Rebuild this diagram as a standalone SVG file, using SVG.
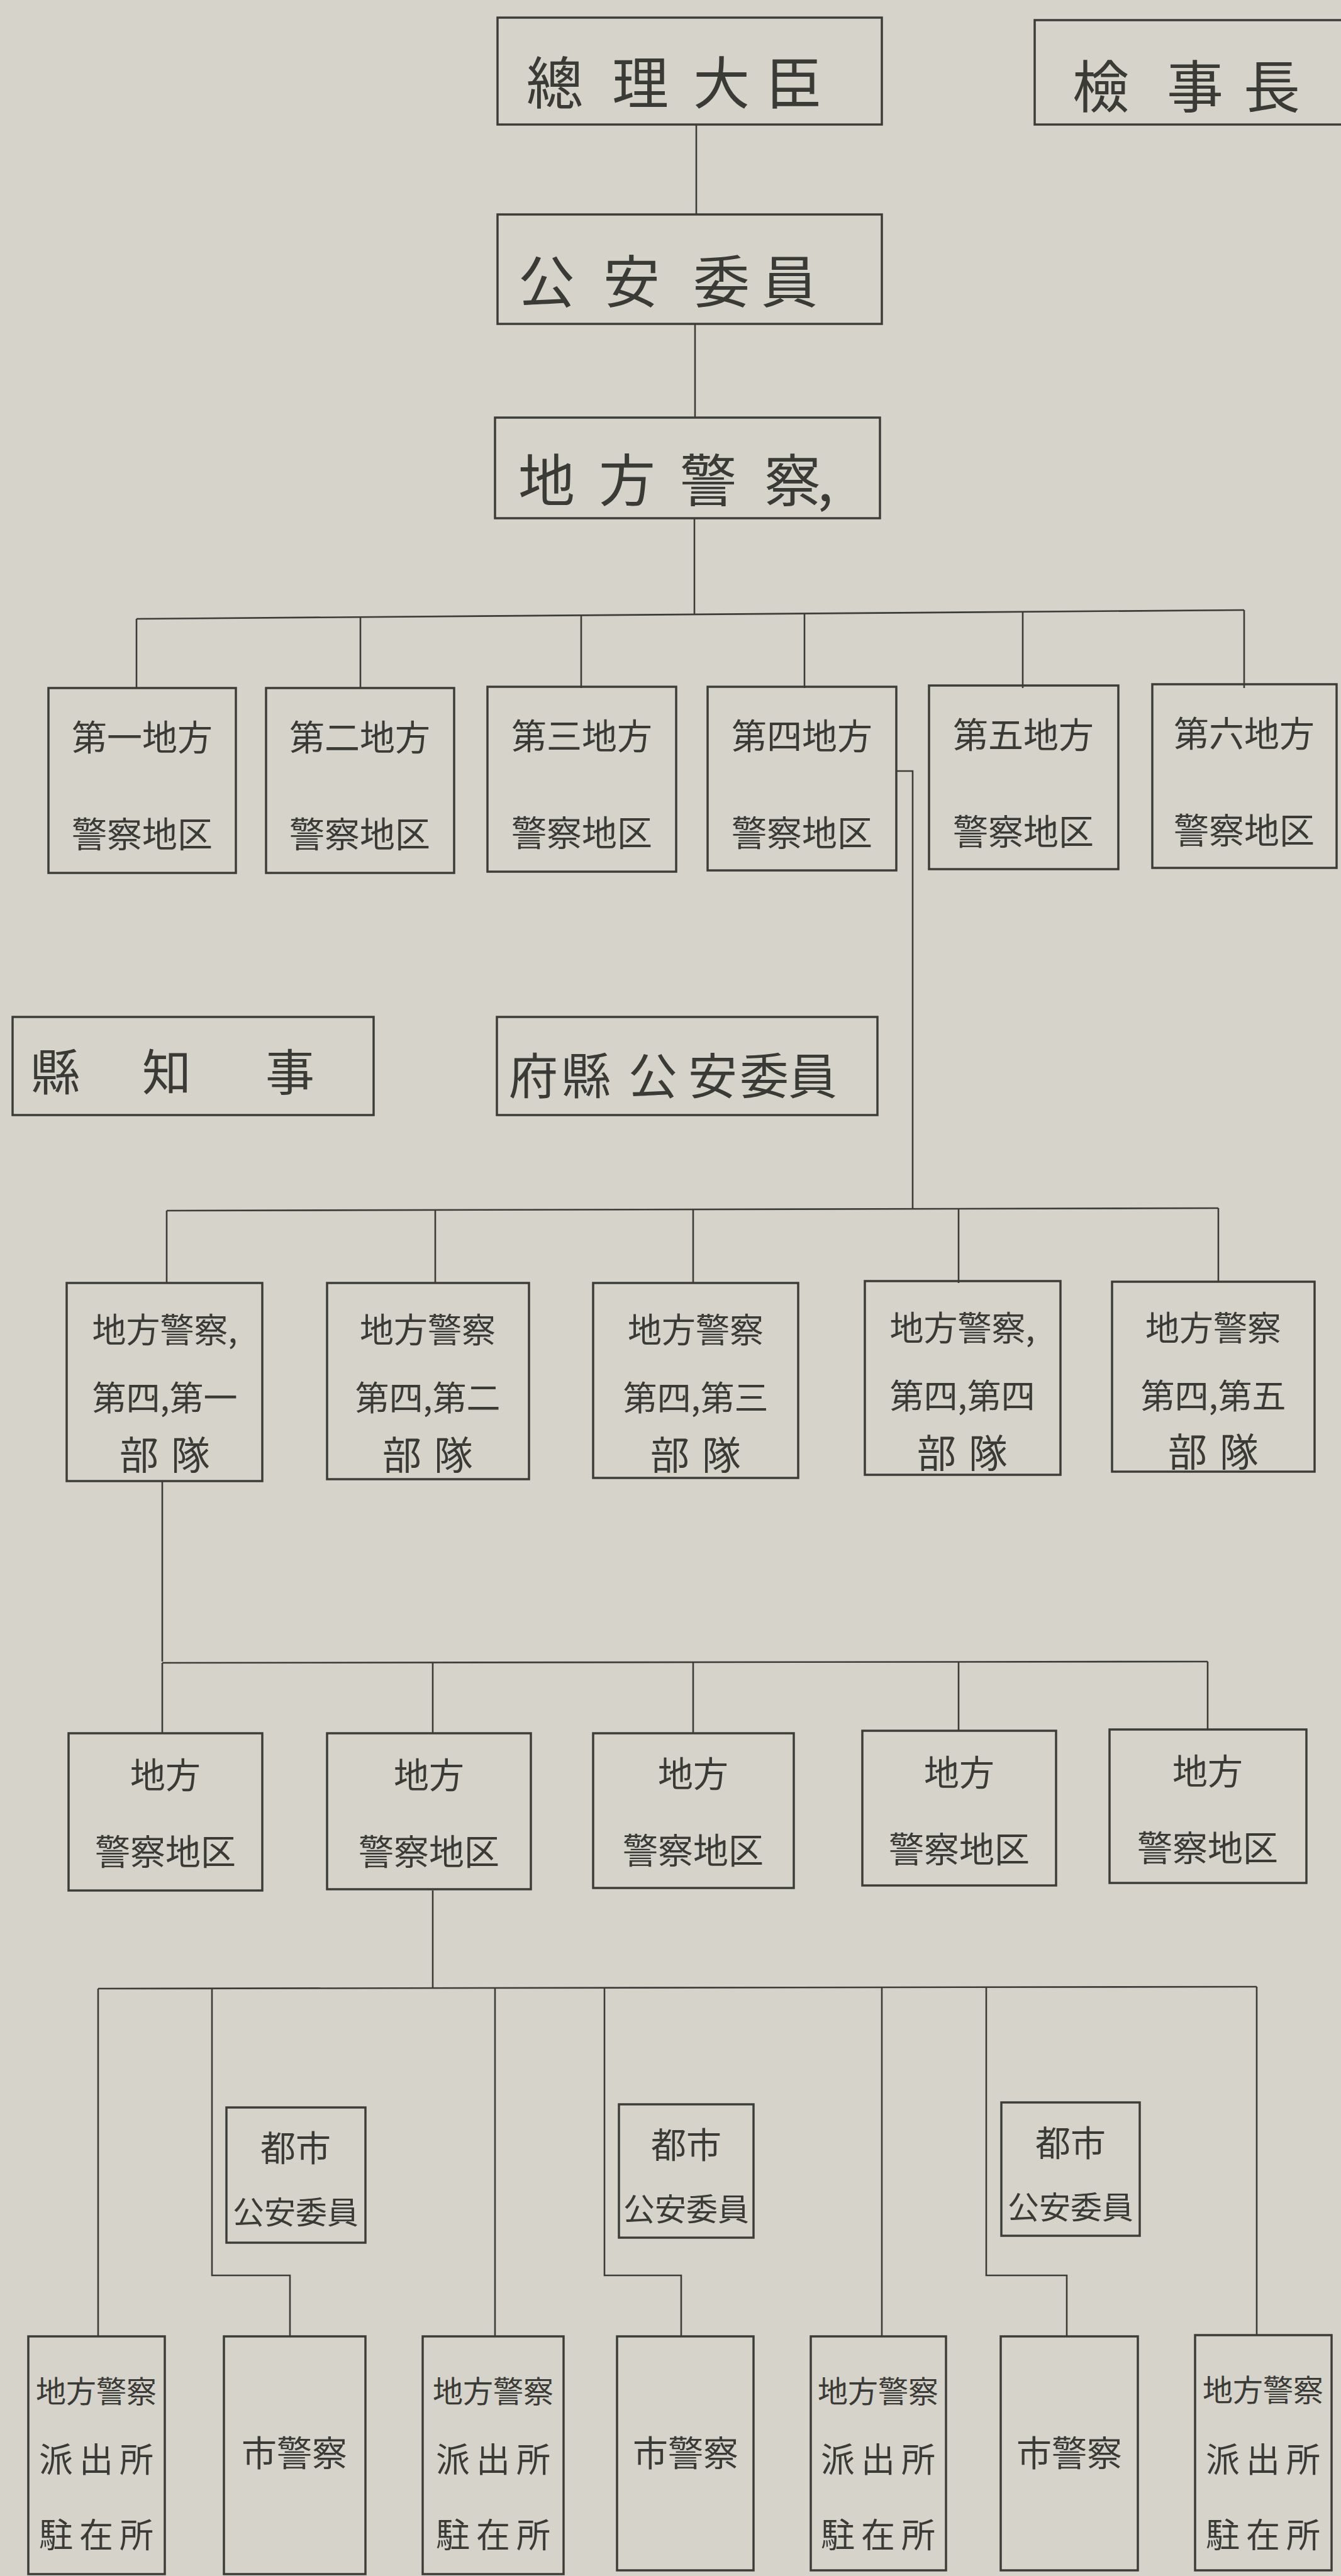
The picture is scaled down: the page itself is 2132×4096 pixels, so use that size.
<svg xmlns="http://www.w3.org/2000/svg" width="2132" height="4096" viewBox="0 0 2132 4096">
<style>
.bg{fill:#d6d4ca}
.box{fill:none;stroke:#3c3c38;stroke-width:3.5}
.ln{fill:none;stroke:#3c3c38;stroke-width:2.6}
text{font-family:"Noto Sans CJK JP","Noto Sans CJK TC",sans-serif;fill:#3a3a36;text-anchor:middle;dominant-baseline:central;font-weight:400}
.f1{font-size:90px}
.f2{font-size:56px}
.f3{font-size:78px}
.f4{font-size:54px}
.f5{font-size:56px}
.f6{font-size:50px}
.f7{font-size:48px}
.f8{font-size:54px;letter-spacing:10px}
.bt{font-size:62px;letter-spacing:20px}
</style>
<rect class="bg" x="0" y="0" width="2132" height="4096"/>

<g id="connectors">
<path class="ln" d="M1107 198V341"/>
<path class="ln" d="M1105 515V664"/>
<path class="ln" d="M1104 824V978"/>
<path class="ln" d="M217 984L1978 970"/>
<path class="ln" d="M217 984V1094M573 981V1094M924 978V1094M1279 975V1094M1626 972V1094M1978 970V1094"/>
<path class="ln" d="M1425 1226H1451V1923"/>
<path class="ln" d="M265 1925L1937 1921"/>
<path class="ln" d="M265 1925V2040M692 1924V2040M1102 1923V2040M1524 1922V2040M1937 1921V2038"/>
<path class="ln" d="M258 2355V2642"/>
<path class="ln" d="M258 2644L1920 2642"/>
<path class="ln" d="M258 2644V2756M688 2644V2756M1102 2643V2756M1524 2643V2752M1920 2642V2750"/>
<path class="ln" d="M688 3006V3160"/>
<path class="ln" d="M156 3162L1998 3159"/>
<path class="ln" d="M156 3162V3715"/>
<path class="ln" d="M337 3162V3618H461V3715"/>
<path class="ln" d="M787 3161V3715"/>
<path class="ln" d="M961 3161V3618H1083V3715"/>
<path class="ln" d="M1402 3160V3715"/>
<path class="ln" d="M1568 3160V3618H1696V3715"/>
<path class="ln" d="M1998 3159V3713"/>
</g>

<g id="n-souri"><rect class="box" x="791" y="28" width="611" height="170"/><text class="f1" x="882 1018 1147 1262" y="126">總理大臣</text></g>
<g id="n-kenjicho"><rect class="box" x="1645" y="32" width="500" height="166"/><text class="f1" x="1750 1900 2022" y="132">檢事長</text></g>
<g id="n-koan"><rect class="box" x="791" y="341" width="611" height="174"/><text class="f1" x="869 1004 1147 1255" y="442">公安委員</text></g>
<g id="n-chihokeisatsu"><rect class="box" x="787" y="664" width="612" height="160"/><text class="f1" x="869 997 1126 1260 1312" y="758">地方警察,</text></g>

<g id="n-k1"><rect class="box" x="77" y="1094" width="298" height="294"/><text class="f2" x="226" y="1168">第一地方</text><text class="f2" x="226" y="1322">警察地区</text></g>
<g id="n-k2"><rect class="box" x="423" y="1094" width="299" height="294"/><text class="f2" x="572" y="1168">第二地方</text><text class="f2" x="572" y="1322">警察地区</text></g>
<g id="n-k3"><rect class="box" x="775" y="1092" width="300" height="294"/><text class="f2" x="925" y="1166">第三地方</text><text class="f2" x="925" y="1320">警察地区</text></g>
<g id="n-k4"><rect class="box" x="1125" y="1092" width="300" height="292"/><text class="f2" x="1275" y="1166">第四地方</text><text class="f2" x="1275" y="1320">警察地区</text></g>
<g id="n-k5"><rect class="box" x="1477" y="1090" width="301" height="292"/><text class="f2" x="1627" y="1164">第五地方</text><text class="f2" x="1627" y="1318">警察地区</text></g>
<g id="n-k6"><rect class="box" x="1832" y="1088" width="293" height="292"/><text class="f2" x="1978" y="1162">第六地方</text><text class="f2" x="1978" y="1316">警察地区</text></g>

<g id="n-kenchiji"><rect class="box" x="20" y="1617" width="574" height="156"/><text class="f3" x="88 265 461" y="1700">縣知事</text></g>
<g id="n-fuken"><rect class="box" x="790" y="1617" width="605" height="156"/><text class="f3" x="848 932 1038 1133 1215 1292" y="1706">府縣公安委員</text></g>

<g id="n-b1"><rect class="box" x="106" y="2040" width="311" height="315"/><text class="f4" x="262" y="2111">地方警察,</text><text class="f4" x="262" y="2219">第四,第一</text><text class="bt" x="272" y="2310">部隊</text></g>
<g id="n-b2"><rect class="box" x="520" y="2040" width="321" height="312"/><text class="f4" x="680" y="2111">地方警察</text><text class="f4" x="680" y="2219">第四,第二</text><text class="bt" x="690" y="2310">部隊</text></g>
<g id="n-b3"><rect class="box" x="943" y="2040" width="326" height="310"/><text class="f4" x="1106" y="2111">地方警察</text><text class="f4" x="1106" y="2219">第四,第三</text><text class="bt" x="1116" y="2310">部隊</text></g>
<g id="n-b4"><rect class="box" x="1375" y="2037" width="311" height="308"/><text class="f4" x="1530" y="2108">地方警察,</text><text class="f4" x="1530" y="2216">第四,第四</text><text class="bt" x="1540" y="2307">部隊</text></g>
<g id="n-b5"><rect class="box" x="1768" y="2038" width="322" height="302"/><text class="f4" x="1929" y="2108">地方警察</text><text class="f4" x="1929" y="2216">第四,第五</text><text class="bt" x="1939" y="2305">部隊</text></g>

<g id="n-c1"><rect class="box" x="109" y="2756" width="308" height="250"/><text class="f5" x="263" y="2818">地方</text><text class="f5" x="263" y="2940">警察地区</text></g>
<g id="n-c2"><rect class="box" x="520" y="2756" width="324" height="248"/><text class="f5" x="682" y="2818">地方</text><text class="f5" x="682" y="2940">警察地区</text></g>
<g id="n-c3"><rect class="box" x="943" y="2756" width="319" height="246"/><text class="f5" x="1102" y="2816">地方</text><text class="f5" x="1102" y="2938">警察地区</text></g>
<g id="n-c4"><rect class="box" x="1371" y="2752" width="308" height="246"/><text class="f5" x="1525" y="2814">地方</text><text class="f5" x="1525" y="2936">警察地区</text></g>
<g id="n-c5"><rect class="box" x="1764" y="2750" width="313" height="244"/><text class="f5" x="1920" y="2812">地方</text><text class="f5" x="1920" y="2934">警察地区</text></g>

<g id="n-toshi1"><rect class="box" x="360" y="3351" width="221" height="215"/><text class="f5" x="470" y="3411">都市</text><text class="f6" x="470" y="3514">公安委員</text></g>
<g id="n-toshi2"><rect class="box" x="984" y="3346" width="214" height="212"/><text class="f5" x="1091" y="3406">都市</text><text class="f6" x="1091" y="3509">公安委員</text></g>
<g id="n-toshi3"><rect class="box" x="1592" y="3343" width="220" height="212"/><text class="f5" x="1702" y="3403">都市</text><text class="f6" x="1702" y="3506">公安委員</text></g>

<g id="n-d1"><rect class="box" x="45" y="3715" width="217" height="378"/><text class="f7" x="153" y="3799">地方警察</text><text class="f8" x="158" y="3907">派出所</text><text class="f8" x="158" y="4027">駐在所</text></g>
<g id="n-d2"><rect class="box" x="356" y="3715" width="225" height="378"/><text class="f5" x="468" y="3896">市警察</text></g>
<g id="n-d3"><rect class="box" x="672" y="3715" width="224" height="378"/><text class="f7" x="784" y="3799">地方警察</text><text class="f8" x="789" y="3907">派出所</text><text class="f8" x="789" y="4027">駐在所</text></g>
<g id="n-d4"><rect class="box" x="981" y="3715" width="217" height="372"/><text class="f5" x="1090" y="3896">市警察</text></g>
<g id="n-d5"><rect class="box" x="1289" y="3715" width="215" height="372"/><text class="f7" x="1396" y="3799">地方警察</text><text class="f8" x="1401" y="3907">派出所</text><text class="f8" x="1401" y="4027">駐在所</text></g>
<g id="n-d6"><rect class="box" x="1591" y="3715" width="218" height="372"/><text class="f5" x="1700" y="3896">市警察</text></g>
<g id="n-d7"><rect class="box" x="1900" y="3713" width="217" height="374"/><text class="f7" x="2008" y="3797">地方警察</text><text class="f8" x="2013" y="3907">派出所</text><text class="f8" x="2013" y="4027">駐在所</text></g>
</svg>
